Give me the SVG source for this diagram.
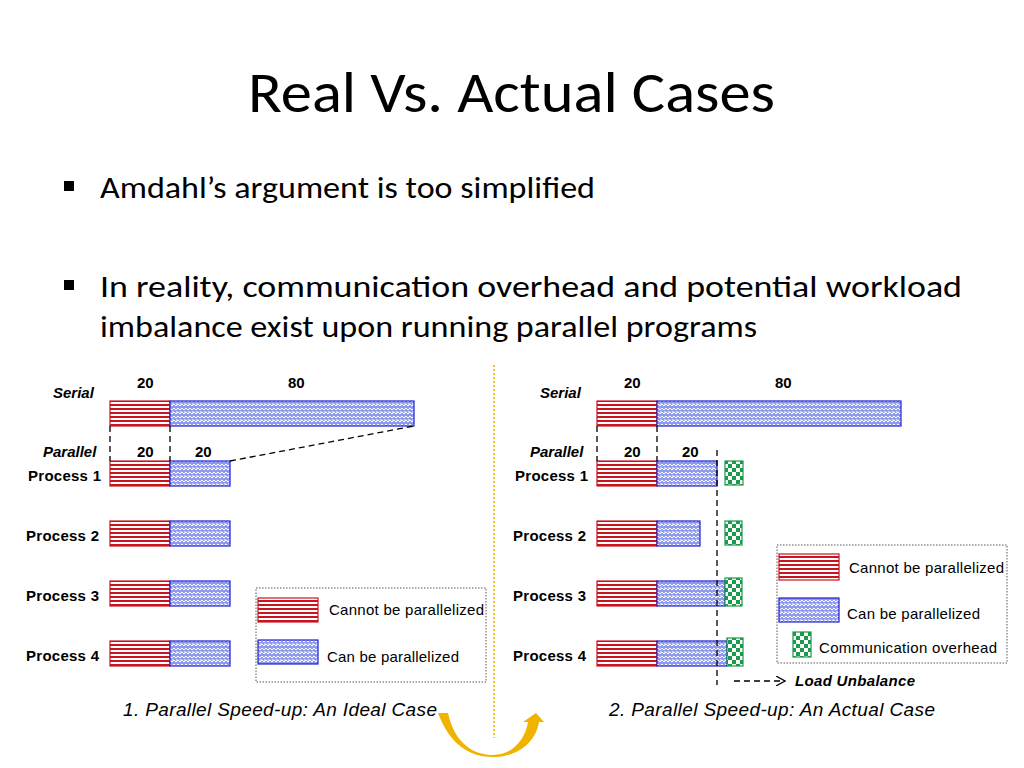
<svg xmlns="http://www.w3.org/2000/svg" width="1024" height="768" viewBox="0 0 1024 768">
<defs>
<pattern id="pr" width="6" height="4" patternUnits="userSpaceOnUse"><rect width="6" height="4" fill="#fff"/><rect y="0" width="6" height="2" fill="#c8141e"/></pattern>
<pattern id="pb" width="8" height="8" patternUnits="userSpaceOnUse"><rect width="8" height="8" fill="#8e9af0"/><path d="M0 2 L2 0 L4 2 L6 0 L8 2 M0 6 L2 4 L4 6 L6 4 L8 6 M1 3 L1 5 M5 3 L5 5" stroke="#fff" stroke-width="1" fill="none"/></pattern>
<pattern id="pg" width="8" height="8" patternUnits="userSpaceOnUse"><rect width="8" height="8" fill="#fff"/><rect width="4" height="4" fill="#1a9a4a"/><rect x="4" y="4" width="4" height="4" fill="#1a9a4a"/></pattern>
<marker id="ah" markerWidth="10" markerHeight="10" refX="9" refY="5" orient="auto" markerUnits="userSpaceOnUse"><path d="M0 0 L9 5 L0 10" fill="none" stroke="#000" stroke-width="1.2"/></marker>
</defs>
<style>
.r{fill:url(#pr);stroke:#c8141e;stroke-width:1.2}
.b{fill:url(#pb);stroke:#2020d0;stroke-width:1.2}
.g{fill:url(#pg);stroke:#1a9a4a;stroke-width:1.2}
.t{font-family:"Liberation Sans",Arial,sans-serif;font-size:15px;fill:#000}
.bd{font-weight:bold}
.it{font-style:italic}
.cap{font-family:"Liberation Sans",Arial,sans-serif;font-size:19px;font-style:italic;fill:#000}
.dash{stroke:#000;stroke-width:1.3;stroke-dasharray:6 4;fill:none}
.leg{fill:none;stroke:#555;stroke-width:1;stroke-dasharray:1.5 1.5}
.h{font-family:Calibri,"Open Sans","Liberation Sans",sans-serif;fill:#000}
</style>
<rect width="1024" height="768" fill="#fff"/>
<text x="248" y="112" class="h" font-size="58" textLength="527" lengthAdjust="spacingAndGlyphs">Real Vs. Actual Cases</text>
<rect x="64" y="181" width="10" height="10" fill="#000"/>
<text x="100" y="198" class="h" font-size="30" textLength="495" lengthAdjust="spacingAndGlyphs">Amdahl’s argument is too simplified</text>
<rect x="64" y="280" width="10" height="10" fill="#000"/>
<text x="100" y="297" class="h" font-size="30" textLength="862" lengthAdjust="spacingAndGlyphs">In reality, communication overhead and potential workload</text>
<text x="100" y="337" class="h" font-size="30" textLength="657" lengthAdjust="spacingAndGlyphs">imbalance exist upon running parallel programs</text>
<line x1="494" y1="365" x2="494" y2="738" stroke="#f0c030" stroke-width="2" stroke-dasharray="2 2"/>
<g id="left">
<text x="53" y="398" class="t bd it">Serial</text>
<text x="137" y="388" class="t bd">20</text><text x="288" y="388" class="t bd">80</text>
<rect x="110" y="401" width="60" height="25" class="r"/><rect x="170" y="401" width="244" height="25" class="b"/>
<text x="43" y="457" class="t bd it">Parallel</text>
<text x="137" y="457" class="t bd">20</text><text x="195" y="457" class="t bd">20</text>
<text x="28" y="481" class="t bd" textLength="73">Process 1</text><text x="26" y="541" class="t bd" textLength="73">Process 2</text><text x="26" y="601" class="t bd" textLength="73">Process 3</text><text x="26" y="661" class="t bd" textLength="73">Process 4</text>
<rect x="110" y="461" width="60" height="25" class="r"/><rect x="170" y="461" width="60" height="25" class="b"/>
<rect x="110" y="521" width="60" height="25" class="r"/><rect x="170" y="521" width="60" height="25" class="b"/>
<rect x="110" y="581" width="60" height="25" class="r"/><rect x="170" y="581" width="60" height="25" class="b"/>
<rect x="110" y="641" width="60" height="25" class="r"/><rect x="170" y="641" width="60" height="25" class="b"/>
<rect x="256" y="588" width="230" height="94" class="leg"/>
<rect x="258" y="598" width="60" height="24" class="r"/><text x="329" y="615" class="t" textLength="155">Cannot be parallelized</text>
<rect x="258" y="640" width="60" height="24" class="b"/><text x="327" y="662" class="t" textLength="132">Can be parallelized</text>
<text x="123" y="716" class="cap" textLength="314">1. Parallel Speed-up: An Ideal Case</text>
</g>
<g id="right">
<text x="540" y="398" class="t bd it">Serial</text>
<text x="624" y="388" class="t bd">20</text><text x="775" y="388" class="t bd">80</text>
<rect x="597" y="401" width="60" height="25" class="r"/><rect x="657" y="401" width="244" height="25" class="b"/>
<text x="530" y="457" class="t bd it">Parallel</text>
<text x="624" y="457" class="t bd">20</text><text x="682" y="457" class="t bd">20</text>
<text x="515" y="481" class="t bd" textLength="73">Process 1</text><text x="513" y="541" class="t bd" textLength="73">Process 2</text><text x="513" y="601" class="t bd" textLength="73">Process 3</text><text x="513" y="661" class="t bd" textLength="73">Process 4</text>
<rect x="597" y="461" width="60" height="25" class="r"/><rect x="657" y="461" width="60" height="25" class="b"/><rect x="725" y="461" width="18" height="24" class="g"/>
<rect x="597" y="521" width="60" height="25" class="r"/><rect x="657" y="521" width="43" height="25" class="b"/><rect x="725" y="521" width="17" height="24" class="g"/>
<rect x="597" y="581" width="60" height="25" class="r"/><rect x="657" y="581" width="68" height="25" class="b"/><rect x="725" y="578" width="17" height="28" class="g"/>
<rect x="597" y="641" width="60" height="25" class="r"/><rect x="657" y="641" width="70" height="25" class="b"/><rect x="727" y="638" width="16" height="28" class="g"/>
<rect x="777" y="545" width="230" height="118" class="leg"/>
<rect x="779" y="554" width="60" height="26" class="r"/><text x="849" y="573" class="t" textLength="155">Cannot be parallelized</text>
<rect x="779" y="598" width="60" height="24" class="b"/><text x="847" y="619" class="t" textLength="133">Can be parallelized</text>
<rect x="793" y="632" width="18" height="25" class="g"/><text x="819" y="653" class="t" textLength="178">Communication overhead</text>
<text x="795" y="686" class="t bd it" textLength="120">Load Unbalance</text>
<text x="609" y="716" class="cap" textLength="326">2. Parallel Speed-up: An Actual Case</text>
</g>
<g id="connectors">
<line x1="110" y1="426" x2="110" y2="461" class="dash"/><line x1="170" y1="426" x2="170" y2="461" class="dash"/>
<line x1="230" y1="461" x2="414" y2="426" class="dash"/>
<line x1="597" y1="426" x2="597" y2="461" class="dash"/><line x1="657" y1="426" x2="657" y2="461" class="dash"/>
<line x1="717" y1="450" x2="717" y2="685" class="dash"/>
<line x1="734" y1="681" x2="785" y2="681" class="dash" marker-end="url(#ah)"/>
<path d="M448 713 C455 745 475 755 493 755 C512 755 525 740 528 722 L523 722 L536 713 L544 722 L539 722 C535 745 515 757 493 757 C470 757 450 745 438 713 Z" fill="#f0b400"/>
</g>
</svg>
